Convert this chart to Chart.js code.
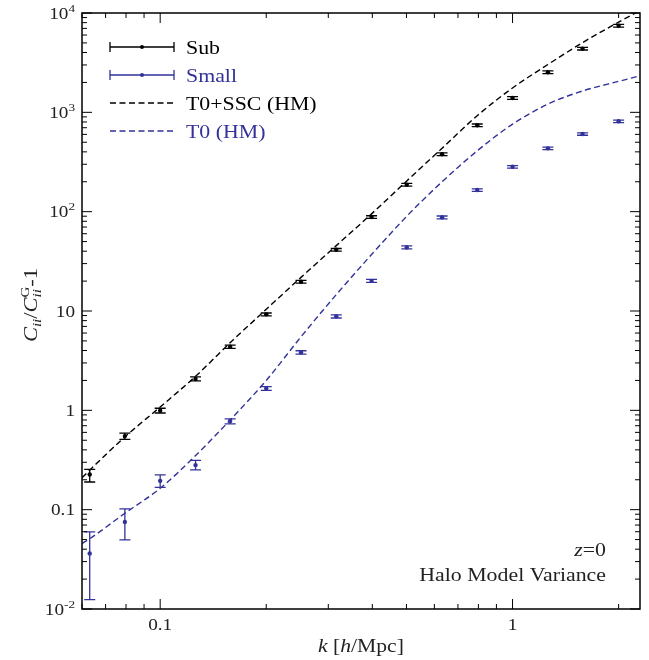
<!DOCTYPE html>
<html>
<head>
<meta charset="utf-8">
<title>Halo Model Variance</title>
<script src="https://cdn.jsdelivr.net/npm/chart.js"></script>
<style>
  html, body { margin: 0; padding: 0; background: #fff; }
</style>
</head>
<body>
<canvas id="cov" width="649" height="660"></canvas>
<script>
// measured k bins [h/Mpc]
const kBins = [0.0631, 0.0794, 0.1, 0.126, 0.158, 0.2, 0.251, 0.316, 0.398, 0.501, 0.631, 0.794, 1.0, 1.26, 1.58, 2.0];

// Sub boxes: C_ii / C_ii^G - 1 with error range
const subVal = [0.226, 0.55, 0.99, 2.07, 4.36, 9.25, 19.7, 41.3, 88.2, 187, 378, 740, 1393, 2530, 4375, 7450];
const subLo  = [0.19, 0.51, 0.94, 1.98, 4.2, 8.95, 19.1, 40.0, 85.5, 181, 366, 717, 1350, 2450, 4240, 7220];
const subHi  = [0.255, 0.59, 1.05, 2.17, 4.53, 9.55, 20.3, 42.6, 91, 193, 390, 763, 1436, 2610, 4510, 7680];

// Small boxes
const smallVal = [0.0362, 0.0753, 0.195, 0.281, 0.78, 1.66, 3.83, 8.83, 20.1, 43.7, 87.6, 165, 283, 434, 605, 812];
const smallLo  = [0.0124, 0.0497, 0.168, 0.252, 0.73, 1.59, 3.68, 8.5, 19.4, 42.2, 84.8, 160, 275, 421, 588, 789];
const smallHi  = [0.0598, 0.102, 0.224, 0.313, 0.82, 1.73, 3.98, 9.15, 20.8, 45.2, 90.4, 170, 291, 447, 622, 835];

// halo model predictions
const kModel   = [0.06, 0.0631, 0.0794, 0.1, 0.126, 0.158, 0.2, 0.251, 0.316, 0.398, 0.501, 0.631, 0.794, 1.0, 1.26, 1.58, 2.0, 2.3];
const sscModel = [0.21, 0.25, 0.54, 1.08, 2.2, 4.8, 10.4, 21.8, 45.5, 95, 204, 435, 925, 1760, 3030, 5030, 8100, 10600];
const t0Model  = [0.0457, 0.051, 0.092, 0.164, 0.35, 0.80, 2.0, 5.5, 14.6, 37, 90, 200, 410, 760, 1210, 1640, 2050, 2330];

// axis ticks
const xTickValues = [0.1, 1];
const xTickLabels = ['0.1', '1'];
const yTickValues = [0.01, 0.1, 1, 10, 100, 1000, 10000];
const yTickLabels = ['10^-2', '0.1', '1', '10', '10^2', '10^3', '10^4'];

const SERIF = '"Liberation Serif", "DejaVu Serif", serif';
const BLUE = '#32329a';

function fontOf(s) {
  return (s.it ? 'italic ' : '') + s.size + 'px ' + SERIF;
}

// row of text pieces (sub/superscripts via dy); sx widens the glyphs a bit
function drawRich(ctx, segs, x, y, align, sx) {
  sx = sx || 1;
  let total = 0, prevW = 0;
  segs.forEach(s => {
    ctx.font = fontOf(s);
    s.w = ctx.measureText(s.t).width;
  });
  segs.forEach(s => {
    if (s.stack) { prevW = s.w; return; }
    total += Math.max(s.w, prevW); prevW = 0;
  });
  let cx = 0;
  if (align === 'center') cx = -total / 2;
  if (align === 'right') cx = -total;
  ctx.save();
  ctx.translate(x, y);
  ctx.scale(sx, 1);
  ctx.textAlign = 'left';
  ctx.textBaseline = 'alphabetic';
  prevW = 0;
  segs.forEach(s => {
    ctx.font = fontOf(s);
    ctx.fillText(s.t, cx, s.dy || 0);
    if (s.stack) { prevW = s.w; return; }
    cx += Math.max(s.w, prevW); prevW = 0;
  });
  ctx.restore();
}

function tickSegs(lbl) {
  const parts = lbl.split('^');
  const segs = [{ t: parts[0], size: 16 }];
  if (parts[1]) segs.push({ t: parts[1], size: 11, dy: -7 });
  return segs;
}

const decor = {
  id: 'decor',
  afterDatasetsDraw(chart) {
    const ctx = chart.ctx, xs = chart.scales.x, ys = chart.scales.y;
    ctx.save();
    chart.data.datasets.forEach(ds => {
      if (!ds.errLo) return;
      ctx.strokeStyle = ds.borderColor;
      ctx.lineWidth = 1.3;
      ds.data.forEach((p, j) => {
        const px = xs.getPixelForValue(p.x);
        const yl = ys.getPixelForValue(ds.errLo[j]);
        const yh = ys.getPixelForValue(ds.errHi[j]);
        ctx.beginPath();
        ctx.moveTo(px, yl); ctx.lineTo(px, yh);
        ctx.moveTo(px - 5.5, yl); ctx.lineTo(px + 5.5, yl);
        ctx.moveTo(px - 5.5, yh); ctx.lineTo(px + 5.5, yh);
        ctx.stroke();
      });
    });
    ctx.restore();
  },
  afterDraw(chart) {
    const ctx = chart.ctx, xs = chart.scales.x, ys = chart.scales.y;
    const a = chart.chartArea;
    ctx.save();
    ctx.strokeStyle = '#000';
    ctx.fillStyle = '#000';

    // frame
    ctx.lineWidth = 1.5;
    ctx.strokeRect(a.left, a.top, a.right - a.left, a.bottom - a.top);

    // inward ticks on all four sides
    ctx.lineWidth = 1;
    ctx.beginPath();
    for (let e = -2; e <= 4; e++) {
      for (let m = 1; m <= 9; m++) {
        const v = m * Math.pow(10, e);
        if (v < ys.min * 0.999 || v > ys.max * 1.001) continue;
        const py = ys.getPixelForValue(v);
        const len = m === 1 ? 10 : 5;
        ctx.moveTo(a.left, py); ctx.lineTo(a.left + len, py);
        ctx.moveTo(a.right, py); ctx.lineTo(a.right - len, py);
      }
    }
    for (let e = -2; e <= 0; e++) {
      for (let m = 1; m <= 9; m++) {
        const v = m * Math.pow(10, e);
        if (v < xs.min * 0.999 || v > xs.max * 1.001) continue;
        const px = xs.getPixelForValue(v);
        const len = m === 1 ? 10 : 5;
        ctx.moveTo(px, a.bottom); ctx.lineTo(px, a.bottom - len);
        ctx.moveTo(px, a.top); ctx.lineTo(px, a.top + len);
      }
    }
    ctx.stroke();

    // tick labels
    ctx.fillStyle = '#222';
    yTickValues.forEach((v, i) => {
      drawRich(ctx, tickSegs(yTickLabels[i]), a.left - 7, ys.getPixelForValue(v) + 5.5, 'right', 1.2);
    });
    xTickValues.forEach((v, i) => {
      drawRich(ctx, tickSegs(xTickLabels[i]), xs.getPixelForValue(v), a.bottom + 21, 'center', 1.2);
    });

    // axis titles
    drawRich(ctx, [
      { t: 'k', size: 18, it: true }, { t: ' [', size: 18 },
      { t: 'h', size: 18, it: true }, { t: '/Mpc]', size: 18 }
    ], (a.left + a.right) / 2, 652, 'center', 1.2);

    ctx.save();
    ctx.translate(31, 305);
    ctx.rotate(-Math.PI / 2);
    drawRich(ctx, [
      { t: 'C', size: 18, it: true }, { t: 'ii', size: 12, it: true, dy: 4 },
      { t: '/', size: 18 }, { t: 'C', size: 18, it: true },
      { t: 'G', size: 12, dy: -8, stack: true }, { t: 'ii', size: 12, it: true, dy: 4 },
      { t: '-1', size: 18 }
    ], 0, 6, 'center', 1.25);
    ctx.restore();

    // annotation, lower right
    drawRich(ctx, [{ t: 'z', size: 18.5, it: true }, { t: '=0', size: 18.5 }], 606, 556, 'right', 1.18);
    drawRich(ctx, [{ t: 'Halo Model Variance', size: 18.5 }], 606, 581, 'right', 1.18);

    // legend
    const x0 = 110, x1 = 174, tx = 186;
    chart.data.datasets.forEach((ds, i) => {
      const ly = 47 + i * 28;
      ctx.strokeStyle = ds.borderColor;
      ctx.fillStyle = ds.borderColor;
      ctx.lineWidth = ds.errLo ? 1.3 : 1.4;
      ctx.setLineDash(ds.errLo ? [] : ds.borderDash);
      ctx.beginPath();
      ctx.moveTo(x0, ly); ctx.lineTo(x1, ly);
      if (ds.errLo) {
        ctx.moveTo(x0, ly - 5); ctx.lineTo(x0, ly + 5);
        ctx.moveTo(x1, ly - 5); ctx.lineTo(x1, ly + 5);
      }
      ctx.stroke();
      ctx.setLineDash([]);
      if (ds.errLo) {
        ctx.beginPath();
        ctx.arc((x0 + x1) / 2, ly, 2, 0, Math.PI * 2);
        ctx.fill();
      }
      drawRich(ctx, [{ t: ds.label, size: 19.5 }], tx, ly + 6.5, 'left', 1.12);
    });
    ctx.restore();
  }
};

const pts = (xs, ys) => xs.map((k, i) => ({ x: k, y: ys[i] }));

new Chart(document.getElementById('cov'), {
  type: 'line',
  data: {
    datasets: [
      { label: 'Sub', data: pts(kBins, subVal), errLo: subLo, errHi: subHi, showLine: false,
        borderColor: '#000', backgroundColor: '#000', pointRadius: 2.2, pointBorderWidth: 0 },
      { label: 'Small', data: pts(kBins, smallVal), errLo: smallLo, errHi: smallHi, showLine: false,
        borderColor: BLUE, backgroundColor: BLUE, pointRadius: 2.2, pointBorderWidth: 0 },
      { label: 'T0+SSC (HM)', data: pts(kModel, sscModel), borderColor: '#000', borderWidth: 1.4,
        borderDash: [6, 3.5], pointRadius: 0, cubicInterpolationMode: 'monotone', fill: false },
      { label: 'T0 (HM)', data: pts(kModel, t0Model), borderColor: BLUE, borderWidth: 1.4,
        borderDash: [6, 3.5], pointRadius: 0, cubicInterpolationMode: 'monotone', fill: false }
    ]
  },
  options: {
    responsive: false,
    devicePixelRatio: 1,
    animation: false,
    layout: { padding: { top: 13, right: 9, left: 0, bottom: 0 } },
    plugins: { legend: { display: false }, tooltip: { enabled: false } },
    scales: {
      x: {
        type: 'logarithmic', min: 0.06, max: 2.3,
        ticks: { display: false }, grid: { display: false }, border: { display: false },
        afterFit(s) { s.height = 51; }
      },
      y: {
        type: 'logarithmic', min: 0.01, max: 10000,
        ticks: { display: false }, grid: { display: false }, border: { display: false },
        afterFit(s) { s.width = 82; }
      }
    }
  },
  plugins: [decor]
});
</script>
</body>
</html>
